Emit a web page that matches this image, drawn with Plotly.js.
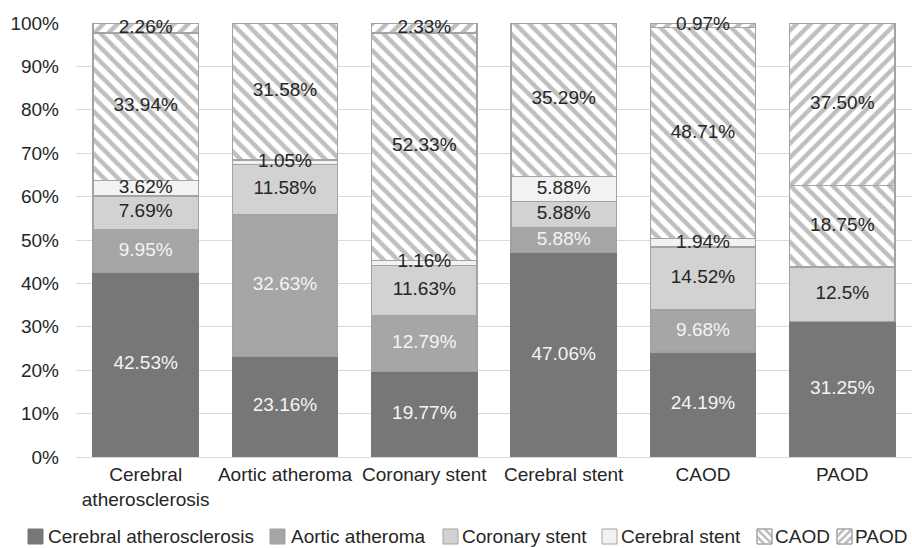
<!DOCTYPE html>
<html>
<head>
<meta charset="utf-8">
<script src="https://cdn.plot.ly/plotly-3.0.1.min.js"></script>
<style>
  html, body { margin: 0; padding: 0; background: #ffffff; }
  #chart { width: 912px; height: 548px; }
</style>
</head>
<body>
<div id="chart"></div>
<script>
// Groups along the x axis (and the stacked series, same names)
const categories = ['Cerebral atherosclerosis', 'Aortic atheroma', 'Coronary stent', 'Cerebral stent', 'CAOD', 'PAOD'];
const tickLabels = ['Cerebral<br>atherosclerosis', 'Aortic atheroma', 'Coronary stent', 'Cerebral stent', 'CAOD', 'PAOD'];
const seriesNames = ['Cerebral atherosclerosis', 'Aortic atheroma', 'Coronary stent', 'Cerebral stent', 'CAOD', 'PAOD'];

// Share of each series within each group, in percent, kept as printed
const cerebralAtherosclerosis = ['42.53', '23.16', '19.77', '47.06', '24.19', '31.25'];
const aorticAtheroma          = ['9.95',  '32.63', '12.79', '5.88',  '9.68',  null];
const coronaryStent           = ['7.69',  '11.58', '11.63', '5.88',  '14.52', '12.5'];
const cerebralStent           = ['3.62',  '1.05',  '1.16',  '5.88',  '1.94',  null];
const caod                    = ['33.94', '31.58', '52.33', '35.29', '48.71', '18.75'];
const paod                    = ['2.26',  null,    '2.33',  null,    '0.97',  '37.50'];

const seriesValues = [cerebralAtherosclerosis, aorticAtheroma, coronaryStent, cerebralStent, caod, paod];

// Look of each series
const FONT = 'Liberation Sans, Arial, Helvetica, sans-serif';
const STRIPE = '#bfbfbf';
const EDGE = '#a3a3a3';
const styles = [
  { fill: '#777777', edge: '#777777', text: '#f4f4f4' },
  { fill: '#a6a6a6', edge: '#a0a0a0', text: '#f4f4f4' },
  { fill: '#d2d2d2', edge: EDGE,      text: '#262626' },
  { fill: '#f2f2f2', edge: EDGE,      text: '#262626' },
  { fill: '#ffffff', edge: EDGE,      text: '#262626', shape: '\\' },
  { fill: '#ffffff', edge: EDGE,      text: '#262626', shape: '/' }
];

const toNum = v => (v === null ? null : Number(v));

const barTraces = [];
const labelTraces = [];
const base = categories.map(() => 0);

seriesValues.forEach((vals, i) => {
  const st = styles[i];
  const nums = vals.map(toNum);
  const marker = { color: st.fill, line: { color: st.edge, width: 1.3 } };
  if (st.shape) {
    marker.pattern = { shape: st.shape, fgcolor: STRIPE, bgcolor: '#ffffff', size: 10, solidity: 0.45, fillmode: 'replace' };
  }
  barTraces.push({
    type: 'bar',
    name: seriesNames[i],
    x: categories,
    y: nums,
    marker: marker,
    hoverinfo: 'skip'
  });

  // Value labels, centred on each stacked segment (drawn above all bars)
  const lx = [], ly = [], lt = [];
  nums.forEach((n, j) => {
    if (n !== null) {
      lx.push(categories[j]);
      ly.push(base[j] + n / 2);
      lt.push(vals[j] + '%');
      base[j] += n;
    }
  });
  labelTraces.push({
    type: 'scatter',
    mode: 'text',
    x: lx,
    y: ly,
    text: lt,
    textposition: 'middle center',
    textfont: { family: FONT, size: 19, color: st.text },
    hoverinfo: 'skip',
    showlegend: false,
    cliponaxis: false
  });
});

// Plot area geometry (pixels) used to place the legend row below it
const M = { l: 76, r: 0, t: 23, b: 91 };
const W = 912, H = 548;
const PW = W - M.l - M.r, PH = H - M.t - M.b;
const px = x => (x - M.l) / PW;
const py = y => (H - M.b - y) / PH;

const legendItems = [
  { sx: 28,  tx: 46 },
  { sx: 270, tx: 289 },
  { sx: 443, tx: 460 },
  { sx: 602, tx: 619 },
  { sx: 757, tx: 773 },
  { sx: 837, tx: 853 }
];
const SW = 15, SY0 = 529, SY1 = 544, LY = 536;

const shapes = [];
const annotations = [];
legendItems.forEach((it, i) => {
  const st = styles[i];
  const x0 = it.sx, x1 = it.sx + SW;
  shapes.push({
    type: 'rect', xref: 'paper', yref: 'paper',
    x0: px(x0), x1: px(x1), y0: py(SY1), y1: py(SY0),
    fillcolor: st.fill, line: { color: st.edge, width: 1 }, layer: 'above'
  });
  if (st.shape) {
    const h = SW / 2;
    let segs;
    if (st.shape === '\\') {
      segs = [[0, 0, SW, SW], [0, h, h, SW], [h, 0, SW, h]];
    } else {
      segs = [[0, SW, SW, 0], [0, h, h, 0], [h, SW, SW, h]];
    }
    let path = '';
    segs.forEach(s => {
      path += 'M' + px(x0 + s[0]) + ',' + py(SY0 + s[1]) + 'L' + px(x0 + s[2]) + ',' + py(SY0 + s[3]);
    });
    shapes.push({
      type: 'path', xref: 'paper', yref: 'paper', path: path,
      line: { color: STRIPE, width: 2.6 }, layer: 'above'
    });
    shapes.push({
      type: 'rect', xref: 'paper', yref: 'paper',
      x0: px(x0), x1: px(x1), y0: py(SY1), y1: py(SY0),
      fillcolor: 'rgba(0,0,0,0)', line: { color: st.edge, width: 1 }, layer: 'above'
    });
  }
  annotations.push({
    xref: 'paper', yref: 'paper', x: px(it.tx), y: py(LY),
    xanchor: 'left', yanchor: 'middle', showarrow: false,
    text: seriesNames[i],
    font: { family: FONT, size: 19, color: '#262626' }
  });
});

const layout = {
  width: W, height: H,
  margin: M,
  barmode: 'stack',
  bargap: 0.245,
  showlegend: false,
  paper_bgcolor: '#ffffff',
  plot_bgcolor: '#ffffff',
  font: { family: FONT, size: 19, color: '#333333' },
  xaxis: {
    type: 'category',
    categoryorder: 'array',
    categoryarray: categories,
    tickvals: categories,
    ticktext: tickLabels,
    showgrid: false, showline: false, zeroline: false,
    ticks: '',
    ticklabelstandoff: 4,
    tickfont: { family: FONT, size: 19, color: '#262626' },
    fixedrange: true
  },
  yaxis: {
    range: [0, 100],
    dtick: 10,
    ticksuffix: '%',
    showgrid: true, gridcolor: '#d9d9d9', gridwidth: 1,
    zeroline: true, zerolinecolor: '#d9d9d9', zerolinewidth: 1,
    showline: false,
    ticks: '',
    ticklabelstandoff: 16,
    tickfont: { family: FONT, size: 19, color: '#262626' },
    fixedrange: true
  },
  shapes: shapes,
  annotations: annotations
};

Plotly.newPlot('chart', barTraces.concat(labelTraces), layout, { displayModeBar: false, staticPlot: true });
</script>
</body>
</html>
